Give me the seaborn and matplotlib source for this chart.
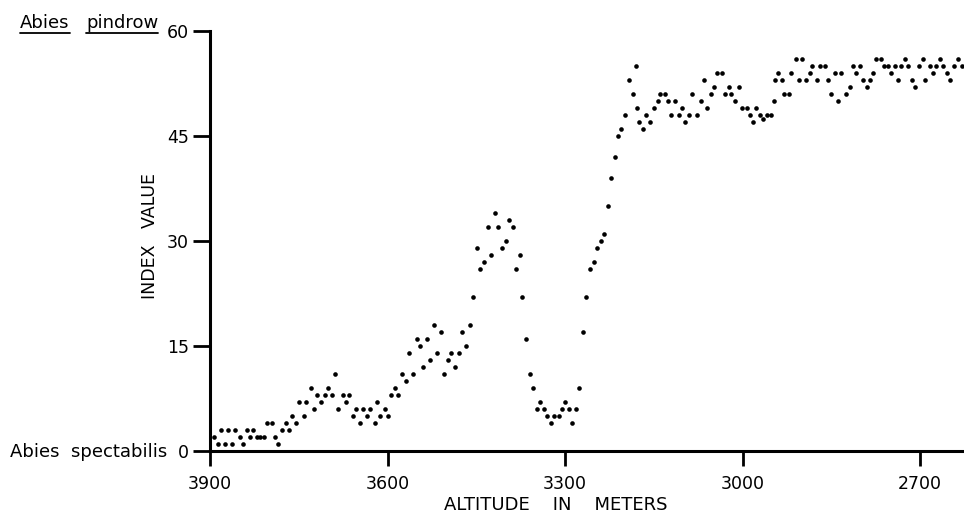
import matplotlib
matplotlib.use("Agg")
import matplotlib.pyplot as plt
import seaborn as sns
from matplotlib.lines import Line2D

# altitude (m) of each sample, high to low
altitude = [
    3893, 3886, 3881, 3875, 3869, 3863, 3858, 3850, 3844, 3838,
    3832, 3827, 3821, 3815, 3809, 3804, 3796, 3791, 3785, 3779,
    3772, 3766, 3761, 3755, 3749, 3742, 3737, 3730, 3725, 3719,
    3712, 3706, 3700, 3694, 3689, 3683, 3676, 3671, 3665, 3659,
    3653, 3647, 3641, 3635, 3629, 3622, 3618, 3612, 3605, 3599,
    3594, 3587, 3582, 3576, 3569, 3564, 3557, 3551, 3546, 3540,
    3533, 3528, 3521, 3516, 3510, 3504, 3498, 3492, 3486, 3479,
    3474, 3467, 3461, 3456, 3449, 3443, 3437, 3431, 3425, 3419,
    3413, 3407, 3400, 3395, 3388, 3383, 3377, 3372, 3366, 3360,
    3354, 3348, 3342, 3335, 3330, 3324, 3318, 3311, 3306, 3301,
    3294, 3288, 3282, 3276, 3270, 3264, 3258, 3252, 3246, 3240,
    3234, 3228, 3222, 3216, 3210, 3205, 3198, 3192, 3186, 3181,
    3179, 3175, 3169, 3163, 3156, 3150, 3143, 3139, 3132, 3126,
    3121, 3114, 3108, 3102, 3097, 3090, 3085, 3077, 3071, 3066,
    3060, 3054, 3048, 3044, 3035, 3030, 3023, 3019, 3013, 3006,
    3001, 2993, 2988, 2982, 2977, 2970, 2965, 2959, 2952, 2947,
    2946, 2940, 2934, 2930, 2921, 2918, 2910, 2905, 2899, 2893,
    2887, 2882, 2874, 2870, 2861, 2856, 2850, 2844, 2839, 2833,
    2826, 2819, 2814, 2808, 2802, 2796, 2790, 2785, 2780, 2774,
    2766, 2762, 2754, 2750, 2743, 2737, 2732, 2726, 2720, 2714,
    2708, 2702, 2696, 2692, 2684, 2679, 2673, 2667, 2661, 2655,
    2649, 2643, 2636, 2630,
]

index_value = [
    2, 1, 3, 1, 3, 1, 3, 2, 1, 3,
    2, 3, 2, 2, 2, 4, 4, 2, 1, 3,
    4, 3, 5, 4, 7, 5, 7, 9, 6, 8,
    7, 8, 9, 8, 11, 6, 8, 7, 8, 5,
    6, 4, 6, 5, 6, 4, 7, 5, 6, 5,
    8, 9, 8, 11, 10, 14, 11, 16, 15, 12,
    16, 13, 18, 14, 17, 11, 13, 14, 12, 14,
    17, 15, 18, 22, 29, 26, 27, 32, 28, 34,
    32, 29, 30, 33, 32, 26, 28, 22, 16, 11,
    9, 6, 7, 6, 5, 4, 5, 5, 6, 7,
    6, 4, 6, 9, 17, 22, 26, 27, 29, 30,
    31, 35, 39, 42, 45, 46, 48, 53, 51, 55,
    49, 47, 46, 48, 47, 49, 50, 51, 51, 50,
    48, 50, 48, 49, 47, 48, 51, 48, 50, 53,
    49, 51, 52, 54, 54, 51, 52, 51, 50, 52,
    49, 49, 48, 47, 49, 48, 47.5, 48, 48, 50,
    53, 54, 53, 51, 51, 54, 56, 53, 56, 53,
    54, 55, 53, 55, 55, 53, 51, 54, 50, 54,
    51, 52, 55, 54, 55, 53, 52, 53, 54, 56,
    56, 55, 55, 54, 55, 53, 55, 56, 55, 53,
    52, 55, 56, 53, 55, 54, 55, 56, 55, 54,
    53, 55, 56, 55,
]

x_ticks = [3900, 3600, 3300, 3000, 2700]
y_ticks = [0, 15, 30, 45, 60]

sns.set_style("ticks")
plt.rcParams['font.family'] = ['DejaVu Sans']
plt.rcParams['text.color'] = 'black'
plt.rcParams['axes.labelcolor'] = 'black'

W, H = 964, 524
fig = plt.figure(figsize=(W / 100, H / 100), dpi=100)
ax = fig.add_axes([210 / W, 73 / H, 754 / W, 420 / H])

sns.scatterplot(x=altitude, y=index_value, color='black', s=11,
                linewidth=0, ax=ax, clip_on=False)

ax.set_xlim(3900, 2626)
ax.set_ylim(0, 60)
ax.set_xticks(x_ticks)
ax.set_yticks(y_ticks)
sns.despine(ax=ax)
for side in ['left', 'bottom']:
    ax.spines[side].set_linewidth(2.2)
    ax.spines[side].set_color('black')
ax.tick_params(axis='x', length=11, width=2, pad=6, labelsize=12.5, colors='black')
ax.tick_params(axis='y', length=12, width=2, pad=3, labelsize=12.5, colors='black')

fig.text(150 / W, 1 - 236 / H, 'INDEX   VALUE', rotation=90, fontsize=12.5,
         ha='center', va='center')
fig.text(556 / W, 1 - 505 / H, 'ALTITUDE    IN    METERS', fontsize=13,
         ha='center', va='center')

# species names at the two ends of the scale
fig.text(10 / W, 1 - 457 / H, 'Abies  spectabilis', fontsize=13,
         ha='left', va='baseline')
words = []
words.append(fig.text(20 / W, 1 - 28 / H, 'Abies', fontsize=13, ha='left', va='baseline'))
words.append(fig.text(86 / W, 1 - 28 / H, 'pindrow', fontsize=13, ha='left', va='baseline'))

fig.canvas.draw()
renderer = fig.canvas.get_renderer()
for t in words:
    bb = t.get_window_extent(renderer)
    y_line = (H - 33) / H
    fig.add_artist(Line2D([bb.x0 / W, bb.x1 / W], [y_line, y_line],
                          transform=fig.transFigure, color='black', lw=1.3))

fig.savefig('out.png', dpi=100)
